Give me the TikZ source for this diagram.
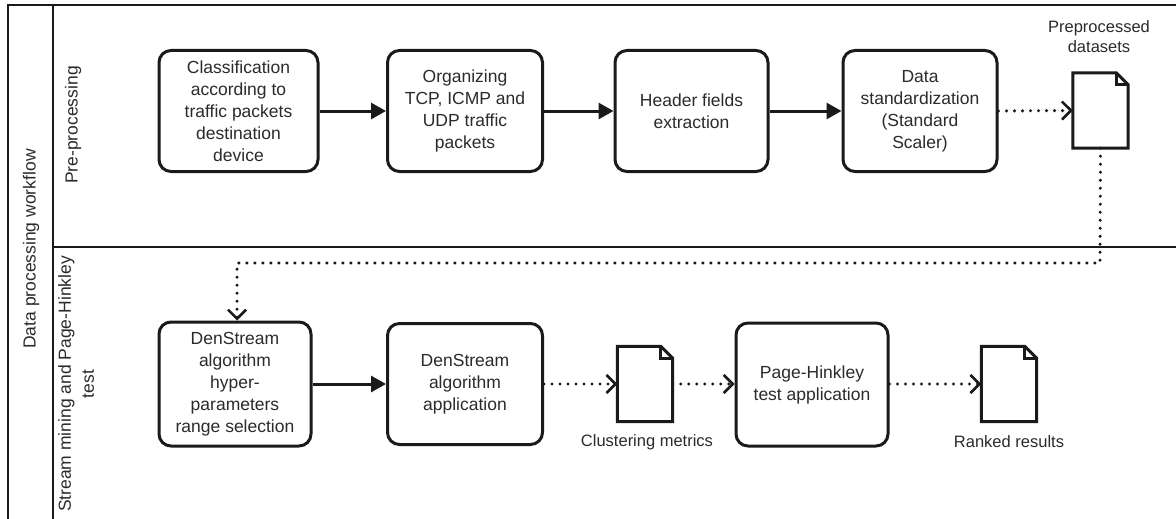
\documentclass[tikz,border=0pt]{standalone}
\usepackage{fontspec}
\setmainfont{Liberation Sans}
\usetikzlibrary{arrows.meta}
\definecolor{ink}{HTML}{1A1A1A}
\definecolor{txt}{HTML}{2B2B2B}
\begin{document}
\begin{tikzpicture}[x=1pt,y=-1pt,
  box/.style={draw=ink, line width=3pt, rounded corners=12pt, minimum width=155pt, minimum height=121pt,
    align=center, inner sep=2pt, text=txt, font=\fontsize{17.5}{22}\selectfont},
  docnode/.style={minimum width=55pt, minimum height=75pt, inner sep=0pt},
  lbl/.style={text=txt, font=\fontsize{16.5}{20}\selectfont, align=center, inner sep=0pt},
  lane/.style={text=txt, font=\fontsize{17.5}{23}\selectfont, align=center, inner sep=0pt, rotate=90},
  solidarrow/.style={draw=ink, line width=3pt, -{Triangle[length=15pt,width=16pt]}},
  dotarrow/.style={draw=ink, line width=3.4pt, line cap=round, dash pattern=on 0pt off 8pt,
    -{Straight Barb[length=9pt,width=18pt,line width=2.6pt,line cap=butt]}},
  frame/.style={draw=ink, line width=2.4pt}
]
\useasboundingbox (0,0) rectangle (1176,519);
\fill[white] (0,0) rectangle (1176,519);

% frame
\draw[frame] (8,519) -- (8,5) -- (1176,5);
\draw[frame] (53,5) -- (53,519);
\draw[frame] (53,247) -- (1176,247);

\node[lane] (wf) at (31,249) {Data processing workflow};
\node[lane] (pp) at (73,125) {Pre-processing};
\node[lane] (sm) at (76,384) {Stream mining and Page-Hinkley\\test};

% top row
\node[box, minimum width=159pt] (b1) at (238.5,111) {Classification\\according to\\traffic packets\\destination\\device};
\node[box] (b2) at (465,111) {Organizing\\TCP, ICMP and\\UDP traffic\\packets};
\node[box, minimum width=153pt] (b3) at (691.5,111) {Header fields\\extraction};
\node[box, minimum width=154pt] (b4) at (920,111) {Data\\standardization\\(Standard\\Scaler)};
\node[docnode] (d1) at (1100.5,110.5) {};
\node[lbl] (l1) at (1099,37) {Preprocessed\\datasets};

% bottom row
\node[box, minimum width=152pt, minimum height=124pt] (b5) at (235,384) {DenStream\\algorithm\\hyper-\\parameters\\range selection};
\node[box] (b6) at (465,384) {DenStream\\algorithm\\application};
\node[docnode] (d2) at (645,384) {};
\node[lbl] (l2) at (647,442) {Clustering metrics};
\node[box, minimum width=152pt, minimum height=123pt] (b7) at (812,384.5) {Page-Hinkley\\test application};
\node[docnode] (d3) at (1009,384) {};
\node[lbl] (l3) at (1009,442) {Ranked results};

% document shapes
\foreach \d in {d1,d2,d3}{
  \draw[ink, line width=3pt, line join=miter]
    (\d.north west) -- ([xshift=-12pt]\d.north east) -- ([yshift=-12pt]\d.north east)
    -- (\d.south east) -- (\d.south west) -- cycle;
  \draw[ink, line width=2.6pt, line join=miter]
    ([xshift=-12pt]\d.north east) -- ([xshift=-12pt,yshift=-12pt]\d.north east) -- ([yshift=-12pt]\d.north east);
}

% connectors
\draw[solidarrow] (b1) -- (b2);
\draw[solidarrow] (b2) -- (b3);
\draw[solidarrow] (b3) -- (b4);
\draw[dotarrow] (b4.east) -- (d1.west);
\coordinate (c1) at (1100,263);
\coordinate (c2) at (237,263);
\draw[dotarrow] (d1.south) -- (c1) -- (c2) -- (b5.north -| c2);
\draw[solidarrow] (b5) -- (b6);
\draw[dotarrow] (b6.east) -- (d2.west);
\draw[dotarrow] (d2.east) -- (b7.west |- d2.east);
\draw[dotarrow] (b7.east |- d3.west) -- (d3.west);
\end{tikzpicture}
\end{document}
